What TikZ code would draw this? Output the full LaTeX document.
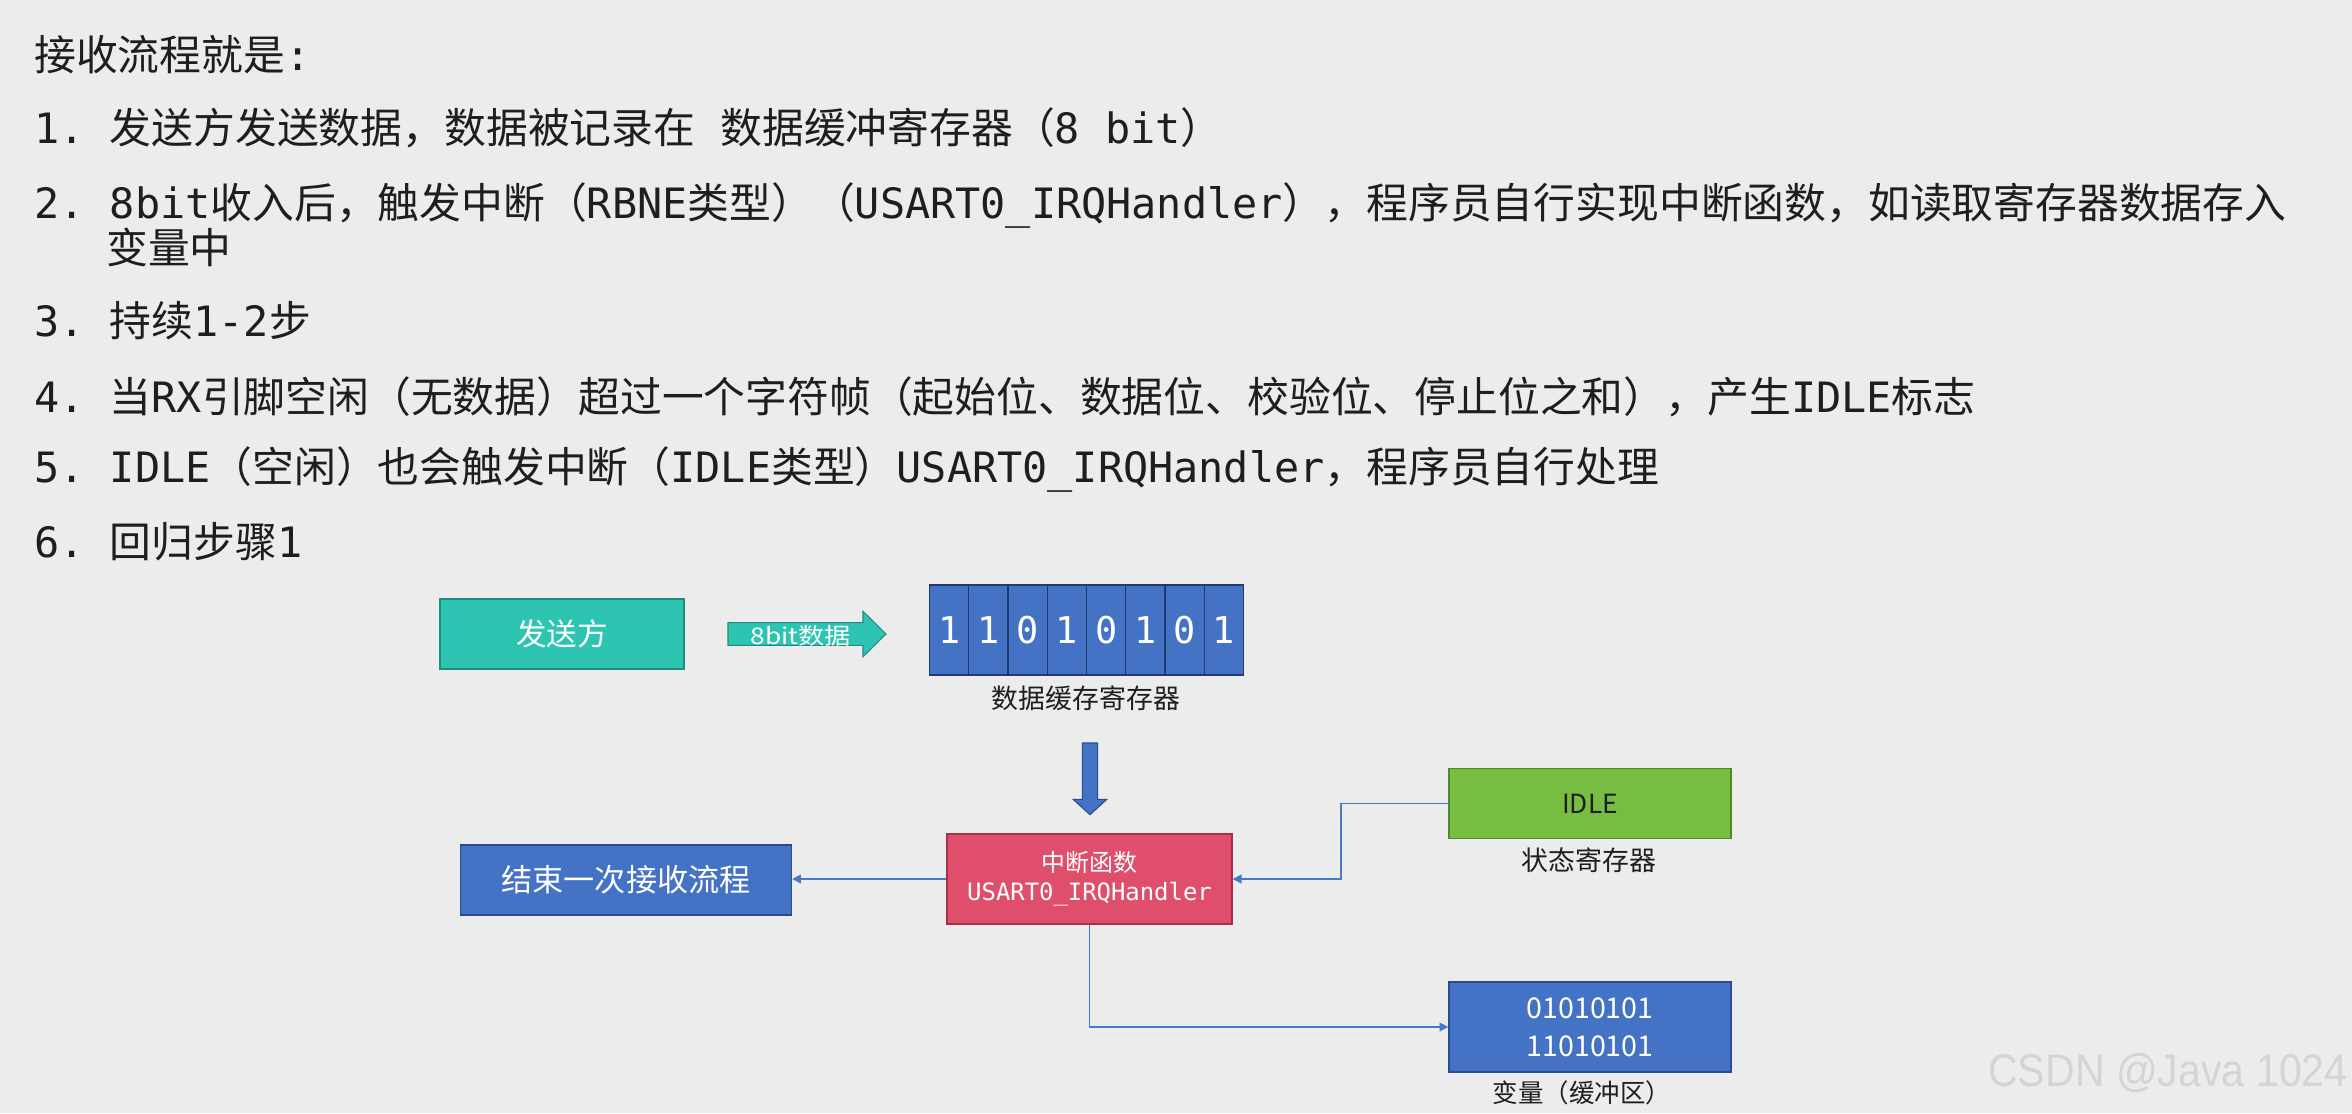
\documentclass[tikz,border=0pt]{standalone}
\usepackage{fontspec}
\setmainfont{Noto Sans CJK SC}
\newfontfamily\monof{DejaVu Sans Mono}
\newfontfamily\widecjk[FakeStretch=1.15]{Noto Sans CJK SC}
\newfontfamily\wmfont[FakeStretch=0.9]{Liberation Sans}
\usetikzlibrary{arrows.meta,calc}
\newcommand\mlat[1]{{\monof #1}}
\newcommand\usc{\char"5F\relax}
\newcommand\setfs[1]{\fontsize{#1}{#1}\selectfont}
\frenchspacing
\definecolor{bg}{HTML}{ECECEC}
\definecolor{txt}{HTML}{1E1E1E}
\definecolor{tealf}{HTML}{2EC4B2}
\definecolor{teald}{HTML}{1E8C7E}
\definecolor{bluef}{HTML}{4472C4}
\definecolor{blued}{HTML}{2B4C8C}
\definecolor{celld}{HTML}{1F3A6E}
\definecolor{redf}{HTML}{DF4E6A}
\definecolor{redd}{HTML}{A33247}
\definecolor{greenf}{HTML}{77BD41}
\definecolor{greend}{HTML}{4F8A2A}
\definecolor{linec}{HTML}{4A78C8}
\definecolor{wm}{HTML}{D4D4D4}
\tikzset{
  bodyline/.style={anchor=west, inner sep=0pt, text=txt, font=\setfs{23.8pt}, text height=19.8pt, text depth=1.7pt},
  box/.style={draw, line width=0.8pt, inner sep=0pt, text=white, align=center},
  cell/.style={box, fill=bluef, draw=celld, minimum width=39.25*0.02cm, minimum height=90*0.02cm, font={\monof\setfs{21pt}}},
  lbl/.style={inner sep=0pt, text=txt},
  conn/.style={draw=linec, line width=0.85pt, -{Triangle[length=5pt,width=5pt]}},
}
\begin{document}
\begin{tikzpicture}[x=0.02cm, y=-0.02cm]
\useasboundingbox (0,0) rectangle (2352,1113);
\fill[bg] (0,0) rectangle (2352,1113);

% text lines
\node[bodyline] (t0) at (34,55) {接收流程就是\mlat{:}};
\node[bodyline] (t1) at (34,128) {\mlat{1. }发送方发送数据，数据被记录在\mlat{ }数据缓冲寄存器（\mlat{8 bit}）};
\node[bodyline] (t2) at (34,203) {\mlat{2. 8bit}收入后，触发中断（\mlat{RBNE}类型）（\mlat{USART0\usc IRQHandler}），程序员自行实现中断函数，如读取寄存器数据存入};
\node[bodyline] (t2b) at (106,248) {变量中};
\node[bodyline] (t3) at (34,321) {\mlat{3. }持续\mlat{1-2}步};
\node[bodyline] (t4) at (34,397) {\mlat{4. }当\mlat{RX}引脚空闲（无数据）超过一个字符帧（起始位、数据位、校验位、停止位之和），产生\mlat{IDLE}标志};
\node[bodyline] (t5) at (34,467) {\mlat{5. IDLE}（空闲）也会触发中断（\mlat{IDLE}类型）\mlat{USART0\usc IRQHandler}，程序员自行处理};
\node[bodyline] (t6) at (34,542) {\mlat{6. }回归步骤\mlat{1}};

% sender
\node[box, fill=tealf, draw=teald, minimum width=244*0.02cm, minimum height=70*0.02cm, font=\setfs{17.4pt}] (send) at (562,634) {发送方};

% data arrow
\coordinate (dA) at (728,634);
\filldraw[fill=tealf, draw=teald, line width=0.6pt] (dA) ++(0,-11.4) -- ++(135,0) -- ++(0,-11.3) -- ++(23,22.7) -- ++(-23,22.7) -- ++(0,-11.3) -- ++(-135,0) -- cycle;
\node[inner sep=0pt, text=white, font={\widecjk\setfs{13pt}}] (dAl) at (801,636) {8bit数据};

% register cells
\foreach \b [count=\i] in {1,1,0,1,0,1,0,1}
  \node[cell] (r\i) at ({929.5+39.25*(\i-0.5)},630) {\b};
\node[lbl, font=\setfs{15.3pt}] (reglbl) at (1086,698) {数据缓存寄存器};

% down arrow
\coordinate (dB) at (1090,743);
\filldraw[fill=bluef, draw=blued, line width=0.6pt] (dB) ++(-7.7,0) -- ++(15.4,0) -- ++(0,56.4) -- ++(9.1,0) -- ++(-16.8,15.3) -- ++(-16.8,-15.3) -- ++(9.1,0) -- cycle;

% interrupt handler
\node[box, fill=redf, draw=redd, minimum width=285*0.02cm, minimum height=90*0.02cm, font={\fontsize{13.6pt}{16.6pt}\selectfont}] (red) at (1089.5,879) {中断函数\\\mlat{USART0\usc IRQHandler}};

% end box
\node[box, fill=bluef, draw=blued, minimum width=331*0.02cm, minimum height=70*0.02cm, font=\setfs{17.7pt}] (endb) at (626,880) {结束一次接收流程};

% status register
\node[box, fill=greenf, draw=greend, minimum width=282*0.02cm, minimum height=70*0.02cm, text=txt, font=\setfs{15pt}] (green) at (1590,803.5) {IDLE};
\node[lbl, font=\setfs{15.3pt}] (greenlbl) at (1589,860.5) {状态寄存器};

% variable buffer
\node[box, fill=bluef, draw=blued, minimum width=282*0.02cm, minimum height=90*0.02cm, font={\fontsize{16.3pt}{21.5pt}\selectfont}] (var) at (1590,1027) {01010101\\11010101};
\node[lbl, font=\setfs{14.5pt}] (varlbl) at (1582,1093) {变量（缓冲区）};

% connectors
\coordinate (bend) at (1341,803.5);
\draw[conn] (red.west) -- (red.west -| endb.east);
\draw[conn] (green.west) -- (bend) |- (red.east);
\draw[conn] (red.south) |- (var.west);

% watermark
\node[inner sep=0pt, anchor=east, text=wm, font={\wmfont\setfs{26pt}}] (wmk) at (2348,1073) {CSDN @Java 1024};
\end{tikzpicture}
\end{document}
